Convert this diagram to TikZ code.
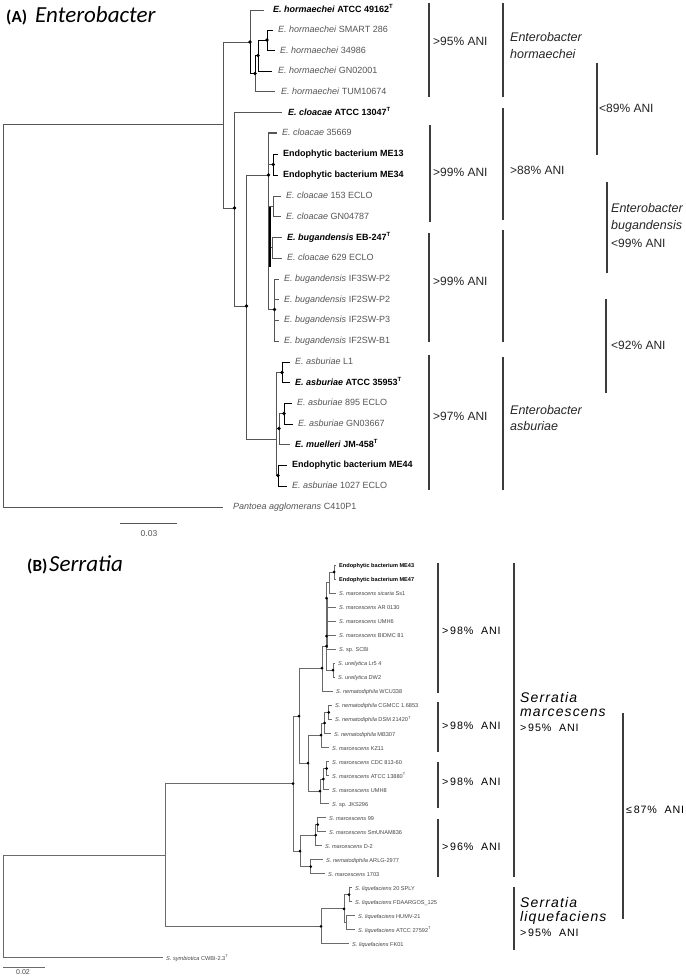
\documentclass[tikz,border=0pt]{standalone}
\usepackage{fontspec}
\setmainfont{Liberation Sans}
\newfontfamily\titlefont{Carlito}
\newfontfamily\spacedfont[LetterSpace=8]{Liberation Sans}
\definecolor{treeA}{HTML}{555555}
\definecolor{treeB}{HTML}{6A6A6A}
\definecolor{labA}{HTML}{555555}
\definecolor{labB}{HTML}{444444}
\definecolor{brk}{HTML}{3C3C3C}
\begin{document}
\begin{tikzpicture}[x=1pt,y=-1pt,
  ta/.style={draw=treeA, line width=0.9pt},
  tk/.style={draw=black, line width=0.9pt},
  tb/.style={draw=treeB, line width=0.7pt},
  dota/.style={fill=black},
  la/.style={anchor=mid west, inner sep=0pt, font=\fontsize{9}{10}\selectfont, text=labA},
  lab/.style={anchor=mid west, inner sep=0pt, font=\fontsize{9}{10}\selectfont\bfseries, text=black},
  lb/.style={anchor=mid west, inner sep=0pt, font=\fontsize{5.6}{6}\selectfont, text=labB},
  lbb/.style={anchor=mid west, inner sep=0pt, font=\fontsize{5.6}{6}\selectfont\bfseries, text=black},
  brA/.style={draw=brk, line width=1.3pt},
  brB/.style={draw=brk, line width=1.4pt},
  aniA/.style={anchor=mid west, inner sep=0pt, font=\fontsize{12}{13}\selectfont, text=black!85},
  spA/.style={anchor=mid west, inner sep=0pt, font=\fontsize{12.5}{13}\selectfont\itshape, text=black!85},
  aniB/.style={anchor=mid west, inner sep=0pt, font=\fontsize{10.7}{12}\spacedfont, text=black},
  spB/.style={anchor=mid west, inner sep=0pt, font=\fontsize{14}{15}\spacedfont\itshape, text=black},
  ttl/.style={anchor=base west, inner sep=0pt, text=black}
]
\fill[white] (0,0) rectangle (685,976);
\useasboundingbox (0,0) rectangle (685,976);

% ---------------- titles
\node[ttl, font=\titlefont\bfseries\fontsize{17}{20}\selectfont] (tA1) at (6,23) {(A)};
\node[ttl, font=\titlefont\itshape\fontsize{23}{25}\selectfont] (tA2) at (35,23) {Enterobacter};
\node[ttl, font=\titlefont\bfseries\fontsize{17}{20}\selectfont] (tB1) at (27,571) {(B)};
\node[ttl, font=\titlefont\itshape\fontsize{23}{25}\selectfont] (tB2) at (49,571) {Serratia};

% ================= PART A tree
% tips
\coordinate (t1) at (264,10);
\coordinate (t2) at (273,30);
\coordinate (t3) at (275,50.5);
\coordinate (t4) at (272,71);
\coordinate (t5) at (275,91.5);
\coordinate (t6) at (282,112.5);
\coordinate (t7) at (277,133);
\coordinate (t8) at (278,154);
\coordinate (t9) at (278,175);
\coordinate (t10) at (281,196);
\coordinate (t11) at (281,216.5);
\coordinate (t12) at (282,237.5);
\coordinate (t13) at (282,258);
\coordinate (t14) at (279,279);
\coordinate (t15) at (279,299.5);
\coordinate (t16) at (279,320);
\coordinate (t17) at (279,341);
\coordinate (t18) at (290,362);
\coordinate (t19) at (290,382.5);
\coordinate (t20) at (292,403);
\coordinate (t21) at (293,424);
\coordinate (t22) at (290,444.5);
\coordinate (t23) at (287,465);
\coordinate (t24) at (287,486);
\coordinate (t25) at (223,507);
% internal nodes
\coordinate (rA) at (3,124);
\coordinate (nR) at (223.5,124);
\coordinate (nH) at (250,42);
\coordinate (nH2) at (255,73.5);
\coordinate (nH3) at (258,55.5);
\coordinate (nH4) at (267,40);
\coordinate (nC1) at (234.5,208);
\coordinate (nC2) at (246.5,306);
\coordinate (nC3) at (268.5,175);
\coordinate (nME) at (273.3,164.5);
\coordinate (nP1) at (273.3,206);
\coordinate (nP2) at (272.5,247);
\coordinate (nIF) at (274.5,309.5);
\coordinate (nA) at (276,439);
\coordinate (nA1) at (276.5,400);
\coordinate (nA2) at (278,475.5);
\coordinate (nL1) at (282,372.5);
\coordinate (nMu) at (279,428.5);
\coordinate (nGN) at (284,413.5);

\draw[ta] (rA) -- (nR);
\draw[ta] (rA) |- (t25);
\draw[ta] (nR) |- (nH);
\draw[ta] (nR) |- (nC1);
\draw[ta] (nH) |- (t1);
\draw[tk] (nH) |- (nH2);
\draw[ta] (nH2) |- (t5);
\draw[tk] (nH2) |- (nH3);
\draw[tk] (nH3) |- (t4);
\draw[tk] (nH3) |- (nH4);
\draw[tk] (nH4) |- (t2);
\draw[tk] (nH4) |- (t3);
\draw[ta] (nC1) |- (t6);
\draw[ta] (nC1) |- (nC2);
\draw[ta] (nC2) |- (nC3);
\draw[ta] (nC2) |- (nA);
\draw[ta, line width=1.4pt] (nC3) |- (t7);
\draw[ta] (nC3) |- (nIF);
\draw[ta, line width=1.4pt] (268.5,175) -- (268.5,217);
\draw[ta] (nC3) |- (nME);
\draw[ta] (nC3) |- (nP1);
\draw[ta] (nC3) |- (nP2);
\draw[tk] (nME) |- (t8);
\draw[tk] (nME) |- (t9);
\draw[ta] (nP1) |- (t10);
\draw[ta] (nP1) |- (t11);
\draw[ta] (nP2) |- (t12);
\draw[ta] (nP2) |- (t13);
\draw[draw=black, line width=1.8pt] (270.3,207) -- (270.3,267);
\draw[ta] (nIF) |- (t14);
\draw[ta] (nIF) |- (t15);
\draw[ta] (nIF) |- (t16);
\draw[ta] (nIF) |- (t17);
\draw[ta] (nA) |- (nA1);
\draw[ta] (nA) |- (nA2);
\draw[ta, line width=1.5pt] (nA1) |- (nL1);
\draw[ta, line width=1.5pt] (nA1) |- (nMu);
\draw[tk] (nL1) |- (t18);
\draw[tk] (nL1) |- (t19);
\draw[ta] (nMu) |- (nGN);
\draw[ta] (nMu) |- (t22);
\draw[tk] (nGN) |- (t20);
\draw[tk] (nGN) |- (t21);
\draw[tk] (nA2) |- (t23);
\draw[tk] (nA2) |- (t24);
\foreach \n in {nH,nH2,nH3,nH4,nC1,nC2,nC3,nME,nIF,nL1,nMu,nGN,nA2}
  \fill[dota] (\n) circle[radius=1.9pt];

% labels A
\node[lab] (l1) at (273,10) {\textit{E. hormaechei} ATCC 49162\textsuperscript{T}};
\node[la] (l2) at (278,30) {\textit{E. hormaechei} SMART 286};
\node[la] (l3) at (280,50.5) {\textit{E. hormaechei} 34986};
\node[la] (l4) at (278,71) {\textit{E. hormaechei} GN02001};
\node[la] (l5) at (281,91.5) {\textit{E. hormaechei} TUM10674};
\node[lab] (l6) at (288,112.5) {\textit{E. cloacae} ATCC 13047\textsuperscript{T}};
\node[la] (l7) at (282,133) {\textit{E. cloacae} 35669};
\node[lab] (l8) at (283,154) {Endophytic bacterium ME13};
\node[lab] (l9) at (283,175) {Endophytic bacterium ME34};
\node[la] (l10) at (286,196) {\textit{E. cloacae} 153 ECLO};
\node[la] (l11) at (286,216.5) {\textit{E. cloacae} GN04787};
\node[lab] (l12) at (287,237.5) {\textit{E. bugandensis} EB-247\textsuperscript{T}};
\node[la] (l13) at (287,258) {\textit{E. cloacae} 629 ECLO};
\node[la] (l14) at (284,279) {\textit{E. bugandensis} IF3SW-P2};
\node[la] (l15) at (284,299.5) {\textit{E. bugandensis} IF2SW-P2};
\node[la] (l16) at (284,320) {\textit{E. bugandensis} IF2SW-P3};
\node[la] (l17) at (284,341) {\textit{E. bugandensis} IF2SW-B1};
\node[la] (l18) at (295,362) {\textit{E. asburiae} L1};
\node[lab] (l19) at (295,382.5) {\textit{E. asburiae} ATCC 35953\textsuperscript{T}};
\node[la] (l20) at (297,403) {\textit{E. asburiae} 895 ECLO};
\node[la] (l21) at (298,424) {\textit{E. asburiae} GN03667};
\node[lab] (l22) at (295,444.5) {\textit{E. muelleri} JM-458\textsuperscript{T}};
\node[lab] (l23) at (292,465) {Endophytic bacterium ME44};
\node[la] (l24) at (292,486) {\textit{E. asburiae} 1027 ECLO};
\node[la] (l25) at (233,507) {\textit{Pantoea agglomerans} C410P1};

% brackets A
\draw[brA] (429,3) -- (429,97);
\draw[brA] (503,3) -- (503,97);
\draw[brA] (597,63) -- (597,155);
\draw[brA] (430,125) -- (430,222);
\draw[brA] (503,108) -- (503,220);
\draw[brA] (503,230) -- (503,342);
\draw[brA] (429,233) -- (429,342);
\draw[brA] (607,182) -- (607,273);
\draw[brA] (606,299) -- (606,393);
\draw[brA] (429,355) -- (429,490);
\draw[brA] (503,357) -- (503,490);
\node[aniA] (a1) at (433,43) {>95\% ANI};
\node[spA] (s1a) at (510,39) {Enterobacter};
\node[spA] (s1b) at (510,56) {hormaechei};
\node[aniA] (a2) at (599,110) {<89\% ANI};
\node[aniA] (a3) at (433,174) {>99\% ANI};
\node[aniA] (a4) at (510,172) {>88\% ANI};
\node[spA] (s2a) at (611,210) {Enterobacter};
\node[spA] (s2b) at (611,227) {bugandensis};
\node[aniA] (a5) at (611,245) {<99\% ANI};
\node[aniA] (a6) at (433,283) {>99\% ANI};
\node[aniA] (a7) at (611,347) {<92\% ANI};
\node[aniA] (a8) at (433,418) {>97\% ANI};
\node[spA] (s3a) at (510,412) {Enterobacter};
\node[spA] (s3b) at (510,428) {asburiae};

% scale A
\coordinate (scA1) at (120,523);
\coordinate (scA2) at (177,523);
\draw[draw=treeA, line width=0.9pt] (scA1) -- (scA2);
\node[inner sep=0pt, font=\fontsize{8.5}{9}\selectfont, text=labA] (scAl) at (149,534) {0.03};

% ================= PART B tree
\coordinate (b0) at (336,565.0);
\coordinate (b1) at (336,579.0);
\coordinate (b2) at (336,593.1);
\coordinate (b3) at (336,607.1);
\coordinate (b4) at (336,621.1);
\coordinate (b5) at (336,635.2);
\coordinate (b6) at (336,649.2);
\coordinate (b7) at (335,663.2);
\coordinate (b8) at (335,677.2);
\coordinate (b9) at (333,691.3);
\coordinate (b10) at (332,705.3);
\coordinate (b11) at (332,719.3);
\coordinate (b12) at (331,733.4);
\coordinate (b13) at (329,747.4);
\coordinate (b14) at (329,761.4);
\coordinate (b15) at (329,775.5);
\coordinate (b16) at (329,789.5);
\coordinate (b17) at (329,803.5);
\coordinate (b18) at (326,817.5);
\coordinate (b19) at (326,831.6);
\coordinate (b20) at (322,845.6);
\coordinate (b21) at (323,859.6);
\coordinate (b22) at (325,873.7);
\coordinate (b23) at (352,887.7);
\coordinate (b24) at (352,901.7);
\coordinate (b25) at (355,915.8);
\coordinate (b26) at (355,929.8);
\coordinate (b27) at (349,943.8);
\coordinate (b28) at (163,957.8);
% internal
\coordinate (rB) at (3,855);
\coordinate (sS1) at (165,855);
\coordinate (sM) at (293,783.5);
\coordinate (sM1) at (299,716);
\coordinate (sT) at (322,668);
\coordinate (sT1) at (326.5,646);
\coordinate (sK) at (326.5,598);
\coordinate (sQ) at (329.5,582);
\coordinate (sP) at (334,572);
\coordinate (sU) at (333,670.2);
\coordinate (sN) at (308,763);
\coordinate (sN1) at (321,735);
\coordinate (sN3) at (324.7,723);
\coordinate (sN4) at (328.7,712.3);
\coordinate (sN2) at (320,791);
\coordinate (sN5) at (323.3,779);
\coordinate (sN6) at (326.7,768.5);
\coordinate (sV) at (300,851);
\coordinate (sV1) at (315.7,835.1);
\coordinate (sV3) at (317.7,824.6);
\coordinate (sV2) at (310.7,866.6);
\coordinate (sL) at (321,926.3);
\coordinate (sL1) at (344,908.8);
\coordinate (sL2) at (349,894.7);
\coordinate (sL3) at (346.5,922.8);

\draw[tb] (rB) -- (sS1);
\draw[tb] (rB) |- (b28);
\draw[tb] (sS1) |- (sM);
\draw[tb] (sS1) |- (sL);
\draw[tb] (sM) |- (sM1);
\draw[tb] (sM) |- (sV);
\draw[tb] (sM1) |- (sT);
\draw[tb] (sM1) |- (sN);
\draw[tb] (sT) |- (sT1);
\draw[tb] (sT) |- (b9);
\draw[tb] (sT1) |- (sK);
\draw[tb] (sT1) |- (sU);
\draw[tb] (sK) |- (sQ);
\draw[tb] (sK) |- (b3);
\draw[tb] (sK) |- (b4);
\draw[tb] (sK) |- (b5);
\draw[tb] (sK) |- (b6);
\draw[draw=treeB, line width=1.6pt] (327.6,598) -- (327.6,648);
\draw[tb] (sQ) |- (sP);
\draw[tb] (sQ) |- (b2);
\draw[tb] (sP) |- (b0);
\draw[tb] (sP) |- (b1);
\draw[tb] (sU) |- (b7);
\draw[tb] (sU) |- (b8);
\draw[tb] (sN) |- (sN1);
\draw[tb] (sN) |- (sN2);
\draw[tb] (sN1) |- (sN3);
\draw[tb] (sN1) |- (b13);
\draw[tb] (sN3) |- (sN4);
\draw[tb] (sN3) |- (b12);
\draw[tb] (sN4) |- (b10);
\draw[tb] (sN4) |- (b11);
\draw[tb] (sN2) |- (sN5);
\draw[tb] (sN2) |- (b17);
\draw[tb] (sN5) |- (sN6);
\draw[tb] (sN5) |- (b16);
\draw[tb] (sN6) |- (b14);
\draw[tb] (sN6) |- (b15);
\draw[tb] (sV) |- (sV1);
\draw[tb] (sV) |- (sV2);
\draw[tb] (sV1) |- (sV3);
\draw[tb] (sV1) |- (b20);
\draw[tb] (sV3) |- (b18);
\draw[tb] (sV3) |- (b19);
\draw[tb] (sV2) |- (b21);
\draw[tb] (sV2) |- (b22);
\draw[tb] (sL) |- (sL1);
\draw[tb] (sL) |- (b27);
\draw[tb] (sL1) |- (sL2);
\draw[tb] (sL1) |- (sL3);
\draw[tb] (sL2) |- (b23);
\draw[tb] (sL2) |- (b24);
\draw[tb] (sL3) |- (b25);
\draw[tb] (sL3) |- (b26);
\foreach \n in {sM,sM1,sT,sT1,sK,sP,sU,sN,sN1,sN3,sN4,sN2,sN5,sN6,sV,sV1,sV3,sV2,sL,sL1,sL2}
  \fill[dota] (\n) circle[radius=1.5pt];
\fill[dota] (326.5,636) circle[radius=1.5pt];

% labels B
\node[lbb] (m0) at (339,565.0) {Endophytic bacterium ME43};
\node[lbb] (m1) at (339,579.0) {Endophytic bacterium ME47};
\node[lb] (m2) at (339,593.1) {\textit{S. marcescens sicaria} Ss1};
\node[lb] (m3) at (339,607.1) {\textit{S. marcescens} AR 0130};
\node[lb] (m4) at (339,621.1) {\textit{S. marcescens} UMH6};
\node[lb] (m5) at (339,635.2) {\textit{S. marcescens} BIDMC 81};
\node[lb] (m6) at (339,649.2) {\textit{S.} sp. SCBI};
\node[lb] (m7) at (338,663.2) {\textit{S. ureilytica} Lr5 4};
\node[lb] (m8) at (338,677.2) {\textit{S. ureilytica} DW2};
\node[lb] (m9) at (336,691.3) {\textit{S. nematodiphila} WCU338};
\node[lb] (m10) at (335,705.3) {\textit{S. nematodiphila} CGMCC 1.6853};
\node[lb] (m11) at (335,719.3) {\textit{S. nematodiphila} DSM 21420\textsuperscript{T}};
\node[lb] (m12) at (334,733.4) {\textit{S. nematodiphila} MB307};
\node[lb] (m13) at (332,747.4) {\textit{S. marcescens} KZ11};
\node[lb] (m14) at (332,761.4) {\textit{S. marcescens} CDC 813-60};
\node[lb] (m15) at (332,775.5) {\textit{S. marcescens} ATCC 13880\textsuperscript{T}};
\node[lb] (m16) at (332,789.5) {\textit{S. marcescens} UMH8};
\node[lb] (m17) at (332,803.5) {\textit{S.} sp. JKS296};
\node[lb] (m18) at (329,817.5) {\textit{S. marcescens} 99};
\node[lb] (m19) at (329,831.6) {\textit{S. marcescens} SmUNAM836};
\node[lb] (m20) at (325,845.6) {\textit{S. marcescens} D-2};
\node[lb] (m21) at (326,859.6) {\textit{S. nematodiphila} ARLG-2977};
\node[lb] (m22) at (328,873.7) {\textit{S. marcescens} 1703};
\node[lb] (m23) at (355,887.7) {\textit{S. liquefaciens} 20 SPLY};
\node[lb] (m24) at (355,901.7) {\textit{S. liquefaciens} FDAARGOS\_125};
\node[lb] (m25) at (358,915.8) {\textit{S. liquefaciens} HUMV-21};
\node[lb] (m26) at (358,929.8) {\textit{S. liquefaciens} ATCC 27592\textsuperscript{T}};
\node[lb] (m27) at (352,943.8) {\textit{S. liquefaciens} FK01};
\node[lb] (m28) at (166,957.8) {\textit{S. symbiotica} CWBI-2.3\textsuperscript{T}};

% brackets B
\draw[brB] (438,563) -- (438,693);
\draw[brB] (438,702) -- (438,752);
\draw[brB] (438,762) -- (438,808);
\draw[brB] (438,819) -- (438,877);
\draw[brB] (514,563) -- (514,877);
\draw[brB] (514,887) -- (514,950);
\draw[brB] (623,713) -- (623,919);
\node[aniB] (c1) at (442,632) {>\,98\%\ \ ANI};
\node[aniB] (c2) at (442,727) {>\,98\%\ \ ANI};
\node[aniB] (c3) at (442,783) {>\,98\%\ \ ANI};
\node[aniB] (c4) at (442,848) {>\,96\%\ \ ANI};
\node[spB] (d1) at (520,700) {Serratia};
\node[spB] (d2) at (520,714) {marcescens};
\node[aniB] (d3) at (520,729) {>\,95\%\ \ ANI};
\node[spB] (e1) at (520,905) {Serratia};
\node[spB] (e2) at (520,919) {liquefaciens};
\node[aniB] (e3) at (520,934) {>\,95\%\ \ ANI};
\node[aniB] (f1) at (626,811) {≤\,87\%\ \ ANI};

% scale B
\coordinate (scB1) at (3,967);
\coordinate (scB2) at (45,967);
\draw[draw=treeB, line width=0.8pt] (scB1) -- (scB2);
\node[inner sep=0pt, font=\fontsize{7}{8}\selectfont, text=labB] (scBl) at (23,972.5) {0.02};
\end{tikzpicture}
\end{document}
